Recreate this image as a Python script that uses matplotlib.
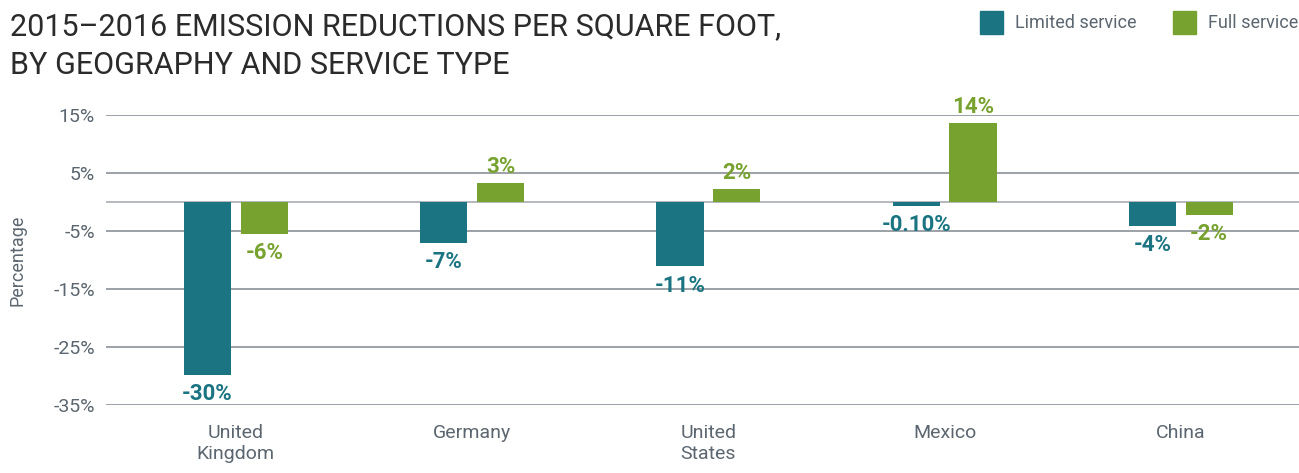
import numpy as np
import matplotlib
matplotlib.use('Agg')
import matplotlib.pyplot as plt
from matplotlib.patches import Rectangle

# font: condensed if available
plt.rcParams['font.family'] = ['Liberation Sans Narrow', 'Roboto', 'DejaVu Sans']

# Data (percent)
countries = ['United\nKingdom', 'Germany', 'United\nStates', 'Mexico', 'China']
limited = [-29.8, -7.0, -11.1, -0.7, -4.1]
full = [-5.5, 3.2, 2.2, 13.6, -2.2]
limited_labels = ['-30%', '-7%', '-11%', '-0.10%', '-4%']
full_labels = ['-6%', '3%', '2%', '14%', '-2%']
yticks = [15, 5, -5, -15, -25, -35]

teal = '#1b7482'
green = '#78a22f'
gray_text = '#5b6670'
grid_col = '#9ba1a6'

fig = plt.figure(figsize=(12.99, 4.73), dpi=100)
ax = fig.add_axes([0.0816, 0.1438, 0.9184, 0.6131])

x = np.arange(len(countries))
w = 0.2
off = 0.12

# gridlines at ticks and zero
for yv in yticks:
    ax.axhline(yv, color=grid_col, lw=1.4, zorder=0)
ax.axhline(0, color='#b4b9bd', lw=1.4, zorder=0)

ax.bar(x - off, limited, w, color=teal, zorder=2)
ax.bar(x + off, full, w, color=green, zorder=2)

for i in range(len(countries)):
    for val, lab, col, dx in [(limited[i], limited_labels[i], teal, -off),
                              (full[i], full_labels[i], green, off)]:
        if val < 0:
            ax.annotate(lab, (x[i] + dx, val), xytext=(0, -6), textcoords='offset points',
                        ha='center', va='top', color=col, fontsize=16, fontweight='bold',
                        annotation_clip=False)
        else:
            ax.annotate(lab, (x[i] + dx, val), xytext=(0, 4), textcoords='offset points',
                        ha='center', va='bottom', color=col, fontsize=16, fontweight='bold',
                        annotation_clip=False)

ax.set_xlim(-0.55, 4.5)
ax.set_ylim(-35, 15)
ax.set_yticks(yticks)
ax.set_yticklabels([f'{t}%' for t in yticks])
ax.set_xticks(x)
ax.set_xticklabels(countries)
ax.tick_params(axis='both', length=0, labelsize=14, labelcolor=gray_text)
ax.tick_params(axis='x', pad=14)
ax.tick_params(axis='y', pad=8)
for s in ax.spines.values():
    s.set_visible(False)
ax.set_ylabel('Percentage', fontsize=13, color=gray_text, labelpad=19)

# title
fig.text(0.008, 0.975, '2015\u20132016 EMISSION REDUCTIONS PER SQUARE FOOT,\nBY GEOGRAPHY AND SERVICE TYPE',
         ha='left', va='top', fontsize=22, color='#2b2b2b', linespacing=1.45)

# legend
for xs, lab, col in [(980, 'Limited service', teal), (1173, 'Full service', green)]:
    fig.patches.append(Rectangle((xs / 1299, 1 - 34 / 473), 23 / 1299, 23 / 473,
                                 transform=fig.transFigure, color=col))
    fig.text((xs + 35) / 1299, 1 - 23 / 473, lab, ha='left', va='center',
             fontsize=13, color=gray_text)

fig.savefig('out.png', dpi=100)
